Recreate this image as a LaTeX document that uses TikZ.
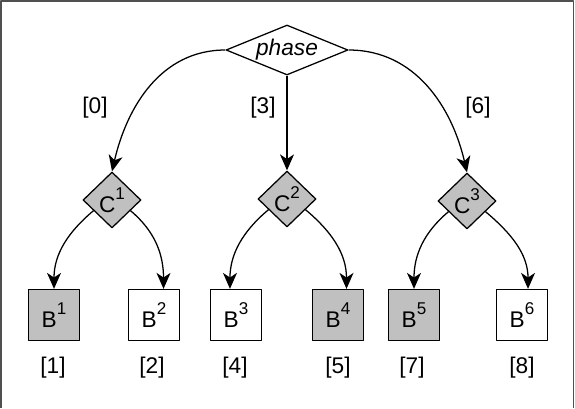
\documentclass[tikz,border=0pt]{standalone}
\usepackage{fontspec}
\setmainfont{Liberation Sans}
\usepackage{xcolor}
\usepackage{tikz}
\usetikzlibrary{arrows.meta,shapes.geometric}
\definecolor{swFill}{HTML}{C0C0C0}
\definecolor{swFrame}{HTML}{505050}
\newcommand{\swsup}[1]{\raisebox{10pt}{\fontsize{12.8}{13}\selectfont #1}}
\tikzset{
  sw diagram/.style={font=\fontsize{17}{20}\selectfont, x=0.75pt, y=0.75pt,
    line join=round},
  sw phase/.style={draw, diamond, aspect=2.4, inner sep=0pt, line width=0.95pt,
    minimum width=91.5pt, minimum height=37.5pt,
    font=\fontsize{17}{20}\selectfont\itshape},
  sw choice/.style={draw, diamond, fill=swFill, inner sep=0pt, line width=0.95pt,
    minimum width=43.5pt, minimum height=42pt},
  sw block/.style={draw, fill=white, inner sep=0pt, line width=0.95pt,
    minimum size=38.25pt},
  sw key block/.style={sw block, fill=swFill},
  sw arrow/.style={-{Stealth[length=12pt,width=10.5pt,inset=3.5pt]}, line width=0.95pt},
  sw frame/.style={draw=swFrame, line width=1pt}
}

\begin{document}
\begin{tikzpicture}[sw diagram]
\useasboundingbox (0,0) rectangle (575,-408);
\draw[sw frame] (1,-408) -- (1,-1) -- (573.5,-1) -- (573.5,-408);
\node[sw phase] (phase) at (287,-50) {phase};
\node[sw choice] (c1) at (112,-200) {C\swsup{1}};
\node[sw choice] (c2) at (287,-199) {C\swsup{2}};
\node[sw choice] (c3) at (467,-201) {C\swsup{3}};
\node[sw key block] (b1) at (54,-315) {B\swsup{1}};
\node[sw block] (b2) at (154,-315) {B\swsup{2}};
\node[sw block] (b3) at (236,-315) {B\swsup{3}};
\node[sw key block] (b4) at (338,-315) {B\swsup{4}};
\node[sw key block] (b5) at (414,-315) {B\swsup{5}};
\node[sw block] (b6) at (522,-315) {B\swsup{6}};
\node (l0) at (95,-108) {[0]};
\node (l3) at (263,-108) {[3]};
\node (l6) at (478,-108) {[6]};
\node (l1) at (53,-368) {[1]};
\node (l2) at (152,-368) {[2]};
\node (l4) at (235,-368) {[4]};
\node (l5) at (338,-368) {[5]};
\node (l7) at (412,-368) {[7]};
\node (l8) at (522,-368) {[8]};
\draw[sw arrow] (phase.west) to[out=180,in=77] (c1.north);
\draw[sw arrow] (phase.south) -- (c2.north);
\draw[sw arrow] (phase.east) to[out=0,in=103] (c3.north);
\draw[sw arrow] (c1.-150) to[out=-140,in=90] (b1.north);
\draw[sw arrow] (c1.-30) to[out=-40,in=90] (b2.70);
\draw[sw arrow] (c2.-150) to[out=-140,in=90] (b3.103);
\draw[sw arrow] (c2.-30) to[out=-40,in=90] (b4.72);
\draw[sw arrow] (c3.-150) to[out=-140,in=90] (b5.north);
\draw[sw arrow] (c3.-30) to[out=-40,in=90] (b6.77);
\end{tikzpicture}
\end{document}
